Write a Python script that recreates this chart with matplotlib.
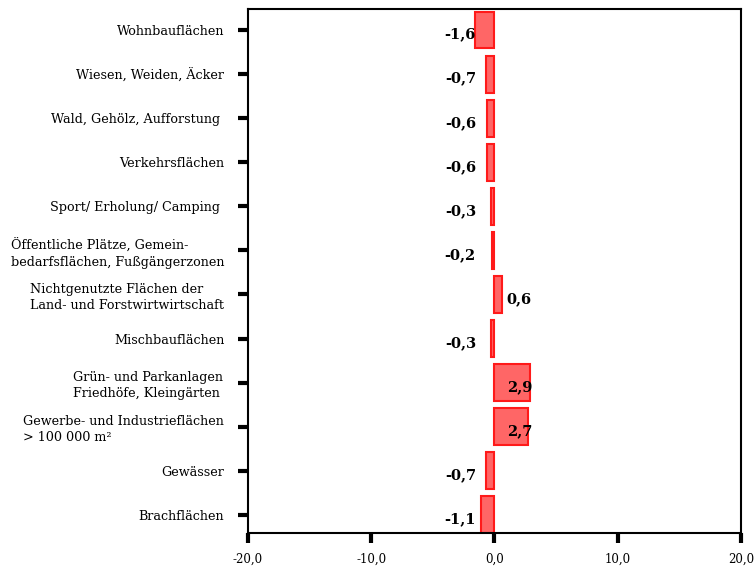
import numpy as np
import matplotlib
matplotlib.use('Agg')
import matplotlib.pyplot as plt

# land-use categories, top to bottom
categories = [
    'Wohnbauflächen',
    'Wiesen, Weiden, Äcker',
    'Wald, Gehölz, Aufforstung ',
    'Verkehrsflächen',
    'Sport/ Erholung/ Camping ',
    'Öffentliche Plätze, Gemein-\nbedarfsflächen, Fußgängerzonen',
    'Nichtgenutzte Flächen der\nLand- und Forstwirtwirtschaft',
    'Mischbauflächen',
    'Grün- und Parkanlagen\nFriedhöfe, Kleingärten ',
    'Gewerbe- und Industrieflächen\n> 100 000 m²',
    'Gewässer',
    'Brachflächen',
]
changes = [-1.6, -0.7, -0.6, -0.6, -0.3, -0.2, 0.6, -0.3, 2.9, 2.7, -0.7, -1.1]
x_ticks = [-20, -10, 0, 10, 20]

plt.rcParams['font.family'] = ['DejaVu Serif']

fig = plt.figure(figsize=(7.56, 5.67), dpi=100)
ax = fig.add_axes([0.328, 0.06, 0.652, 0.924])

y = np.arange(len(categories))
ax.barh(y, changes, height=0.83, color='#ff6666', edgecolor='#ff1a1a', linewidth=1.5)

# value labels: negatives to the left of zero, positives to the right
for yi, v in zip(y, changes):
    txt = '{:.1f}'.format(v).replace('.', ',')
    if v < 0:
        ax.text(-1.5, yi + 0.1, txt, ha='right', va='center',
                fontsize=10.5, fontweight='bold')
    else:
        ax.text(1.0, yi + 0.1, txt, ha='left', va='center',
                fontsize=10.5, fontweight='bold')

ax.set_xlim(-20, 20)
ax.set_ylim(len(categories) - 0.585, -0.48)
ax.set_yticks(y)
ax.set_yticklabels(categories, fontsize=9.2, multialignment='left', linespacing=1.3)
ax.set_xticks(x_ticks)
ax.set_xticklabels(['{:.1f}'.format(t).replace('.', ',') for t in x_ticks], fontsize=8.5)

ax.tick_params(axis='y', length=7, width=3, pad=10, direction='out')
ax.tick_params(axis='x', length=7, width=3, pad=7, direction='out')
for s in ax.spines.values():
    s.set_linewidth(1.5)

fig.savefig('out.png', dpi=100)
